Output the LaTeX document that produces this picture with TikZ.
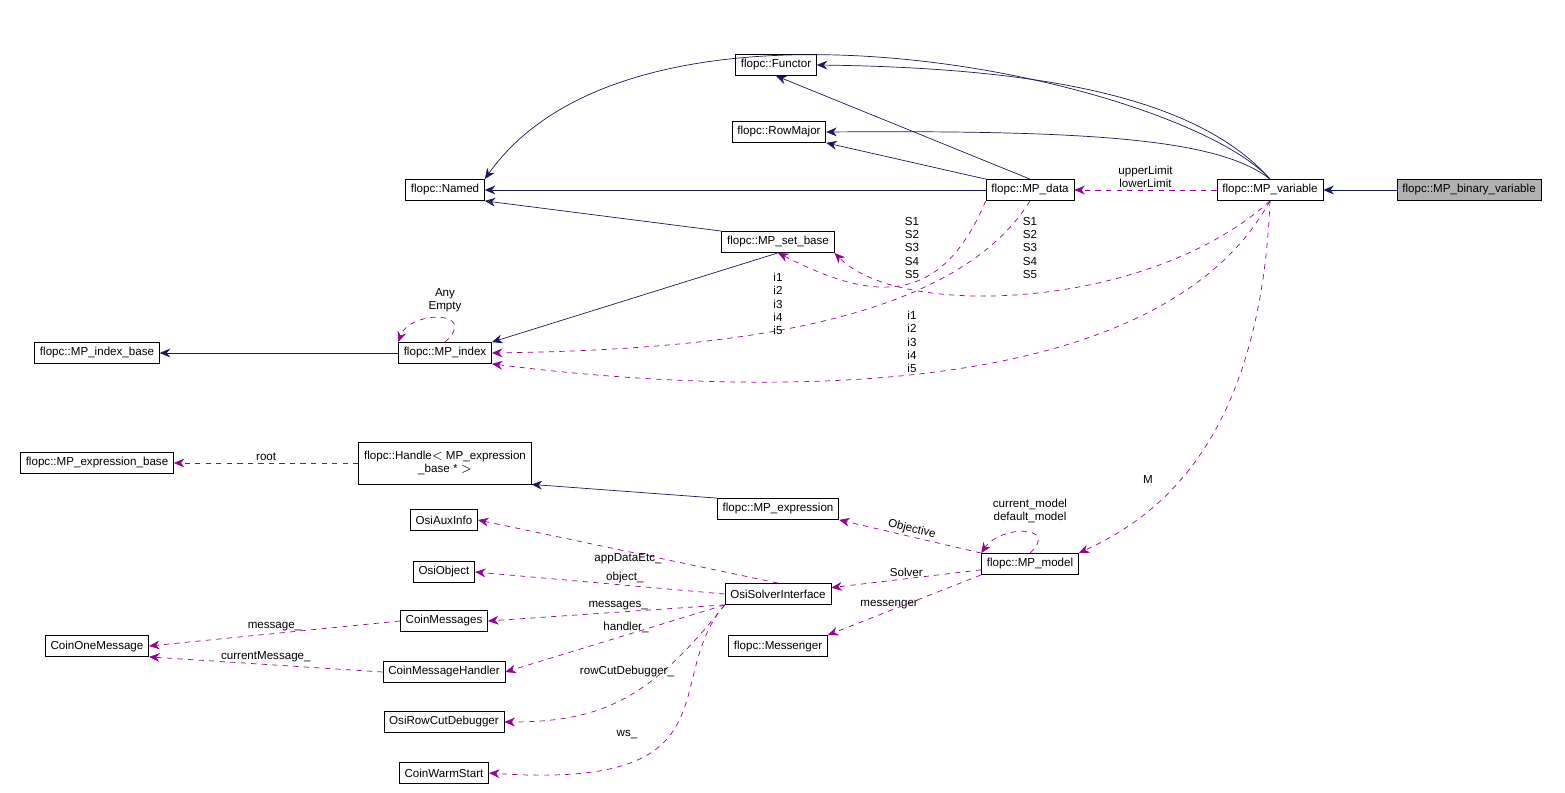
\documentclass[tikz,border=0pt]{standalone}
\usepackage{fontspec}
\setmainfont{Liberation Sans}
\usetikzlibrary{arrows.meta}
\tikzset{
  cls/.style={draw,rectangle,inner xsep=3pt,inner ysep=0pt,minimum height=12pt,font=\fontsize{6.6}{7.6}\selectfont,align=center},
  inh/.style={draw=blue!30!black!90,-{Stealth[length=6pt,width=5pt]}},
  use/.style={draw=violet!80!magenta,dashed,-{Stealth[length=6pt,width=5pt]}},
  lbl/.style={font=\fontsize{6.6}{7.6}\selectfont,align=center,inner sep=1pt}
}
\begin{document}
\begin{tikzpicture}[x=0.02cm,y=-0.02cm]
    \useasboundingbox (0,0) rectangle (1565,793);
    % classes
    \node[cls,fill=black!30] (bin) at (1469,190) {flopc::MP\_binary\_variable};
    \node[cls] (var) at (1270,190) {flopc::MP\_variable};
    \node[cls] (data) at (1030,190) {flopc::MP\_data};
    \node[cls] (named) at (445,190) {flopc::Named};
    \node[cls] (functor) at (776,65) {flopc::Functor};
    \node[cls] (rowmajor) at (779,132) {flopc::RowMajor};
    \node[cls] (setbase) at (778,242) {flopc::MP\_set\_base};
    \node[cls] (index) at (445,353) {flopc::MP\_index};
    \node[cls] (indexbase) at (97,353) {flopc::MP\_index\_base};
    \node[cls] (exprbase) at (97,463) {flopc::MP\_expression\_base};
    \node[cls,minimum height=24pt] (handle) at (445,463) {flopc::Handle$<$ MP\_expression\\\_base * $>$};
    \node[cls] (expr) at (778,509) {flopc::MP\_expression};
    \node[cls] (model) at (1030,564) {flopc::MP\_model};
    \node[cls] (osi) at (778,594) {OsiSolverInterface};
    \node[cls] (messenger) at (778,646) {flopc::Messenger};
    \node[cls] (aux) at (444,520) {OsiAuxInfo};
    \node[cls] (object) at (444,572) {OsiObject};
    \node[cls] (messages) at (444,621) {CoinMessages};
    \node[cls] (handler) at (444,672) {CoinMessageHandler};
    \node[cls] (debugger) at (444,722) {OsiRowCutDebugger};
    \node[cls] (warm) at (444,773) {CoinWarmStart};
    \node[cls] (onemsg) at (97,646) {CoinOneMessage};
    % inheritance
    \draw[inh] (bin) -- (var);
    \draw[inh] (var.north) .. controls (1180,80) and (640,-40) .. (named.north east);
    \draw[inh] (var.north) .. controls (1200,100) and (1050,68) .. (functor.east);
    \draw[inh] (var.north) .. controls (1220,140) and (1100,130) .. (rowmajor.east);
    \draw[inh] (data.north) -- (functor.south);
    \draw[inh] (data.north west) -- (rowmajor.south east);
    \draw[inh] (data) -- (named);
    \draw[inh] (setbase.north west) -- (named.south east);
    \draw[inh] (setbase.south) -- (index.north east);
    \draw[inh] (index) -- (indexbase);
    \draw[inh] (expr.north west) -- (handle.south east);
    % usage
    \draw[use] (var) -- node[lbl,above,pos=.5]{upperLimit\\lowerLimit} (data);
    \draw[use] (var.south) .. controls (1150,310) and (900,320) .. (setbase.south east);
    \node[lbl] (svar) at (1030,248) {S1\\S2\\S3\\S4\\S5};
    \draw[use] (data.south west) .. controls (940,310) and (870,300) .. (setbase.south);
    \node[lbl] (sdata) at (912,248) {S1\\S2\\S3\\S4\\S5};
    \draw[use] (data.south) .. controls (950,330) and (700,350) .. (index.east);
    \node[lbl] (idata) at (778,304) {i1\\i2\\i3\\i4\\i5};
    \draw[use] (var.south) .. controls (1150,420) and (700,390) .. (index.south east);
    \node[lbl] (ivar) at (912,342) {i1\\i2\\i3\\i4\\i5};
    \draw[use] (index.north) .. controls (480,310) and (410,310) .. (index.north west);
    \node[lbl] (iloop) at (445,300) {Any\\Empty};
    \draw[use] (var.south) .. controls (1260,450) and (1150,520) .. (model.north east);
    \node[lbl] (m) at (1148,480) {M};
    \draw[use] (model.north) .. controls (1060,525) and (1000,525) .. (model.north west);
    \node[lbl] (mloop) at (1030,511) {current\_model\\default\_model};
    \draw[use] (model.north west) -- node[lbl,above,sloped]{Objective} (expr.south east);
    \draw[use] (model) -- node[lbl,above]{Solver} (osi);
    \draw[use] (model.south west) -- node[lbl,above,pos=.6]{messenger} (messenger.north east);
    \draw[use] (handle) -- node[lbl,above]{root} (exprbase);
    \draw[use] (osi.north) -- node[lbl,below,pos=.5]{appDataEtc\_} (aux.east);
    \draw[use] (osi.west) -- node[lbl,above,pos=.4]{object\_} (object.east);
    \draw[use] (osi.south west) -- node[lbl,above,pos=.45]{messages\_} (messages.east);
    \draw[use] (osi.south west) -- node[lbl,above,pos=.45]{handler\_} (handler.east);
    \draw[use] (osi.south west) .. controls (650,700) and (600,722) .. (debugger.east);
    \node[lbl] (lrow) at (627,672) {rowCutDebugger\_};
    \draw[use] (osi.south west) .. controls (660,680) and (740,790) .. (warm.east);
    \node[lbl] (lws) at (627,735) {ws\_};
    \draw[use] (messages.west) -- node[lbl,above]{message\_} (onemsg.east);
    \draw[use] (handler.west) -- node[lbl,above]{currentMessage\_} (onemsg.south east);
\end{tikzpicture}
\end{document}
